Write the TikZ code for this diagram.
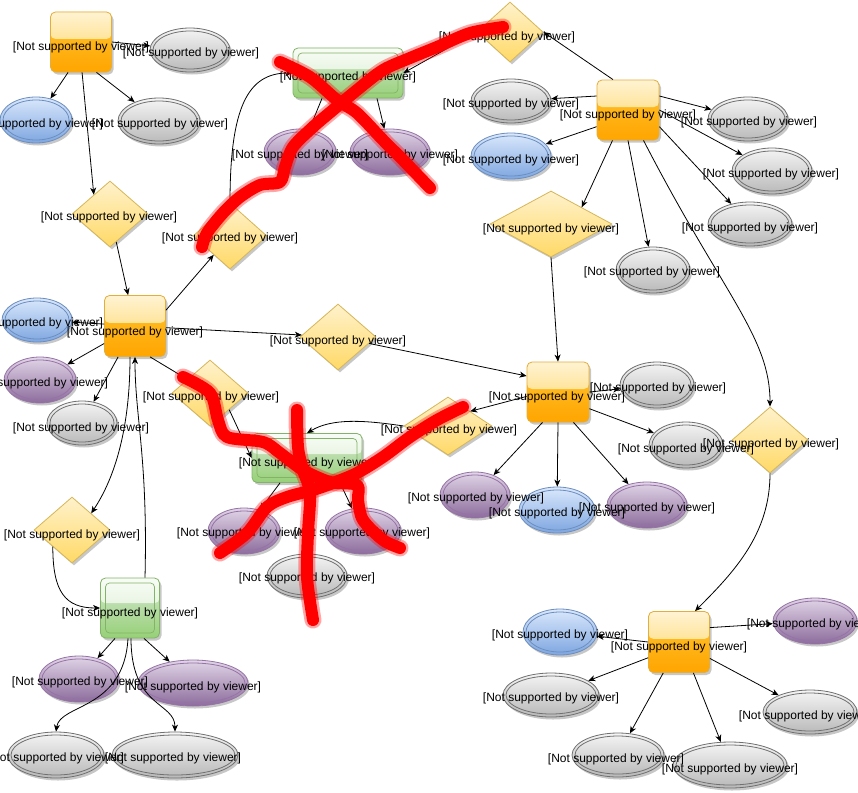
\documentclass[tikz,border=0pt]{standalone}
\usepackage{fontspec}
\setmainfont{Liberation Sans}
\usetikzlibrary{shapes.geometric, shadows, arrows.meta, calc}

% fills and rims
\definecolor{orTop}{HTML}{FFC533}
\definecolor{orBot}{HTML}{FFA500}
\definecolor{orGlassTop}{HTML}{FFF3D2}
\definecolor{orGlassBot}{HTML}{FFD258}
\definecolor{orRim}{HTML}{E3AE3C}
\definecolor{gnTop}{HTML}{D5E8D4}
\definecolor{gnBot}{HTML}{97D077}
\definecolor{gnGlassTop}{HTML}{F8FCF6}
\definecolor{gnGlassBot}{HTML}{D6EBCC}
\definecolor{gnRim}{HTML}{82B366}
\definecolor{grTop}{HTML}{F5F5F5}
\definecolor{grBot}{HTML}{B8B8B8}
\definecolor{grRim}{HTML}{707070}
\definecolor{blTop}{HTML}{DAE8FC}
\definecolor{blBot}{HTML}{7EA6E0}
\definecolor{blRim}{HTML}{6C8EBF}
\definecolor{puTop}{HTML}{E1D5E7}
\definecolor{puBot}{HTML}{8C6C9C}
\definecolor{puRim}{HTML}{9673A6}
\definecolor{dmTop}{HTML}{FFF2CC}
\definecolor{dmBot}{HTML}{FFD966}
\definecolor{dmRim}{HTML}{D6B656}

\pgfdeclarelayer{shapes}
\pgfdeclarelayer{marks}
\pgfsetlayers{shapes,main,marks}

\tikzset{
  sh/.style={drop shadow={shadow xshift=2pt, shadow yshift=-2.5pt, opacity=0.22, fill=black}},
  obox/.style={rectangle, rounded corners=5pt, inner sep=0pt, draw=orRim, line width=0.8pt,
    top color=orTop, bottom color=orBot, sh,
    path picture={\shade[top color=orGlassTop, bottom color=orGlassBot]
      (path picture bounding box.north west) rectangle
      ($(path picture bounding box.north east)!0.45!(path picture bounding box.south east)$);}},
  gbox/.style={rectangle, rounded corners=5pt, inner sep=0pt, draw=gnRim, line width=0.8pt,
    top color=gnTop, bottom color=gnBot, sh,
    path picture={\shade[top color=gnGlassTop, bottom color=gnGlassBot]
      (path picture bounding box.north west) rectangle
      ($(path picture bounding box.north east)!0.42!(path picture bounding box.south east)$);
      \draw[draw=gnRim, line width=0.7pt, rounded corners=4pt]
      ([shift={(5pt,-5pt)}]path picture bounding box.north west) rectangle
      ([shift={(-5pt,5pt)}]path picture bounding box.south east);}},
  rhomb/.style={diamond, inner sep=0pt, draw=dmRim, line width=0.8pt,
    top color=dmTop, bottom color=dmBot, sh},
  oval/.style={ellipse, inner sep=0pt, line width=0.8pt, sh},
  grayoval/.style={draw=grRim, top color=grTop, bottom color=grBot},
  blueoval/.style={draw=blRim, top color=blTop, bottom color=blBot},
  purpleoval/.style={draw=puRim, top color=puTop, bottom color=puBot},
  grayoval rim/.style={draw=grRim, line width=0.8pt},
  blueoval rim/.style={draw=blRim, line width=0.8pt},
  purpleoval rim/.style={draw=puRim, line width=0.8pt},
  txt/.style={font=\fontsize{12}{14}\selectfont, inner sep=0pt},
  conn/.style={line width=0.8pt, -{Stealth[length=7pt, width=6pt, inset=2pt]}},
  redhalo/.style={draw=red, opacity=0.35, line width=17pt, line cap=round, line join=round},
  redmark/.style={draw=red, line width=12pt, line cap=round, line join=round},
}

\newcommand\nsvtext{[Not supported by viewer]}

% #1 name, #2 x, #3 y, #4 width, #5 height, #6 style, #7/#8 label position
\newcommand\boxnode[8]{%
  \begin{pgfonlayer}{shapes}
    \node[#6, minimum width=#4pt, minimum height=#5pt] (#1) at (#2,#3) {};
  \end{pgfonlayer}
  \node[txt] (#1-t) at (#7,#8) {\nsvtext};}

% #1 name, #2 x, #3 y, #4 x radius, #5 y radius, #6 style, #7/#8 label position
\newcommand\ovalnode[8]{%
  \begin{pgfonlayer}{shapes}
    \node[oval, #6, minimum width={2*#4pt}, minimum height={2*#5pt}] (#1) at (#2,#3) {};
    \draw[#6 rim] (#1.center) ellipse [x radius=#4-3, y radius=#5-3];
  \end{pgfonlayer}
  \node[txt] (#1-t) at (#7,#8) {\nsvtext};}

\begin{document}
\begin{tikzpicture}[x=1pt, y=-1pt]
\useasboundingbox (0,0) rectangle (858,792);
\begin{pgfonlayer}{shapes}
  \fill[white] (0,0) rectangle (858,792);
\end{pgfonlayer}

% upper left group
\boxnode{O1}{81}{42}{61}{60}{obox}{81}{47}
\ovalnode{G1}{190}{50}{40}{22}{grayoval}{191}{53}
\ovalnode{B1}{36}{120}{36}{23}{blueoval}{35}{124}
\ovalnode{G2}{159}{121}{41}{23}{grayoval}{160}{124}
\boxnode{D1}{110}{214}{76}{66}{rhomb}{109}{217}

% middle left group
\boxnode{O2}{135}{326}{61}{61}{obox}{135}{332}
\ovalnode{B2}{37}{320}{35}{22}{blueoval}{35}{323}
\ovalnode{P1}{40}{380}{36}{23}{purpleoval}{40}{383}
\ovalnode{G3}{82}{423}{35}{22}{grayoval}{81}{428}
\boxnode{D2}{230}{236}{74}{66}{rhomb}{230}{238}
\boxnode{D6}{338}{337}{76}{66}{rhomb}{338}{341}
\boxnode{D8}{210}{393}{76}{66}{rhomb}{211}{397}

% upper middle group
\boxnode{Gr1}{348}{73}{110}{50}{gbox}{348}{77}
\ovalnode{P2}{300}{152}{36}{23}{purpleoval}{300}{155}
\ovalnode{P3}{390}{152}{40}{23}{purpleoval}{390}{155}

% upper right group
\boxnode{D3}{510}{32}{66}{60}{rhomb}{507}{37}
\boxnode{O3}{628}{110}{62}{60}{obox}{628}{115}
\ovalnode{G4}{511}{101}{40}{22}{grayoval}{511}{104}
\ovalnode{B3}{511}{156}{40}{23}{blueoval}{511}{160}
\ovalnode{G5}{748}{119}{40}{22}{grayoval}{749}{122}
\ovalnode{G6}{772}{171}{40}{23}{grayoval}{771}{174}
\ovalnode{G7}{750}{224}{42}{22}{grayoval}{750}{228}
\boxnode{D4}{551}{224}{122}{66}{rhomb}{551}{229}
\ovalnode{G8}{653}{270}{37}{23}{grayoval}{652}{272}

% centre right group
\boxnode{O4}{558}{392}{62}{60}{obox}{557}{397}
\ovalnode{G9}{657}{385}{37}{23}{grayoval}{658}{388}
\ovalnode{G10}{686}{445}{37}{23}{grayoval}{686}{449}
\ovalnode{P4}{475}{495}{35}{23}{purpleoval}{476}{498}
\ovalnode{B4}{557}{510}{38}{23}{blueoval}{557}{513}
\ovalnode{P5}{647}{505}{40}{23}{purpleoval}{647}{508}
\boxnode{D7}{448}{426}{88}{58}{rhomb}{449}{430}
\boxnode{D5}{770}{440}{76}{66}{rhomb}{771}{444}

% centre group
\boxnode{Gr2}{307}{458}{110}{49}{gbox}{307}{463}
\ovalnode{P6}{244}{531}{36}{23}{purpleoval}{245}{533}
\ovalnode{P7}{363}{531}{38}{23}{purpleoval}{362}{533}
\ovalnode{G11}{307}{576}{40}{22}{grayoval}{307}{578}

% lower left group
\boxnode{D9}{72}{530}{76}{66}{rhomb}{72}{535}
\boxnode{Gn3}{130}{608}{59}{60}{gbox}{130}{613}
\ovalnode{P8}{79}{679}{40}{23}{purpleoval}{80}{682}
\ovalnode{P9}{193}{683}{55}{23}{purpleoval}{193}{687}
\ovalnode{G12}{56}{755}{48}{23}{grayoval}{56}{758}
\ovalnode{G13}{175}{755}{63}{23}{grayoval}{173}{758}

% lower right group
\boxnode{O5}{679}{642}{61}{61}{obox}{679}{647}
\ovalnode{B5}{560}{632}{37}{23}{blueoval}{560}{635}
\ovalnode{P10}{815}{621}{42}{23}{purpleoval}{815}{624}
\ovalnode{G14}{551}{695}{48}{22}{grayoval}{551}{698}
\ovalnode{G15}{810}{712}{47}{22}{grayoval}{807}{716}
\ovalnode{G16}{618}{755}{46}{22}{grayoval}{616}{759}
\ovalnode{G17}{730}{765}{57}{23}{grayoval}{730}{769}

% connectors
\draw[conn] (O1.east) -- (G1);
\draw[conn] (O1.-113) -- (B1);
\draw[conn] (O1.-63) -- (G2);
\draw[conn] (O1.-88) -- (D1.130);
\draw[conn] (D1) -- (O2);
\draw[conn] (O2) -- (B2);
\draw[conn] (O2) -- (P1);
\draw[conn] (O2) -- (G3);
\draw[conn] (O2.27) -- (D2);
\draw[conn] (D2.north) .. controls +(0,-95) and +(-45,0) .. (Gr1.west);
\draw[conn] (D3.west) -- (Gr1.east);
\draw[conn] ([xshift=-26pt]Gr1.south) -- (P2);
\draw[conn] ([xshift=29pt]Gr1.south) -- (P3);
\draw[conn] ([xshift=-15pt]O3.north) -- (D3.east);
\draw[conn] (O3.156) -- (G4);
\draw[conn] (O3.-152) -- (B3);
\draw[conn] (O3.24) -- (G5);
\draw[conn] (O3.east) -- (G6);
\draw[conn] (O3.-28) -- (G7);
\draw[conn] (O3.-117) -- (D4.north east);
\draw[conn] (O3.south) -- (G8);
\draw[conn] (O3.-63) .. controls +(80,155) and +(0,-70) .. (D5.north);
\draw[conn] (D4.south) -- (O4.north);
\draw[conn] (O2) -- (D6);
\draw[conn] (D6) -- (O4.153);
\draw[conn] (O4.east) -- (G9);
\draw[conn] (O4.-28) -- (G10);
\draw[conn] (O4.-117) -- (P4);
\draw[conn] (O4.south) -- (B4);
\draw[conn] (O4.-63) -- (P5);
\draw[conn] (O4.188) -- (D7.north east);
\draw[conn] (D7.west) .. controls +(-40,-6) and +(25,-15) .. (Gr2.north);
\draw[conn] (O2.-64) -- (D8);
\draw[conn] (D8.south east) -- (Gr2.west);
\draw[conn] ([xshift=-27pt]Gr2.south) -- (P6);
\draw[conn] ([xshift=33pt]Gr2.south) -- (P7);
\draw[conn] (Gr2.south) -- (G11.north);
\draw[conn] ([xshift=-5pt]O2.south) .. controls +(0,80) and +(20,-30) .. (D9.north east);
\draw[conn] ([xshift=15pt]Gn3.north) .. controls +(3,-120) and +(0,60) .. (O2.south);
\draw[conn] (D9.south west) .. controls +(0,45) and +(-35,0) .. (Gn3.west);
\draw[conn] ([xshift=-15pt]Gn3.south) -- (P8);
\draw[conn] ([xshift=14pt]Gn3.south) -- (P9);
\draw[conn] ([xshift=-2pt]Gn3.south) .. controls +(-4,72) and +(4,-28) .. (G12.north);
\draw[conn] ([xshift=1pt]Gn3.south) .. controls +(0,70) and +(0,-30) .. (G13.north);
\draw[conn] (D5.south) .. controls +(0,60) and +(40,-40) .. ([xshift=16pt]O5.north);
\draw[conn] (O5.west) -- (B5);
\draw[conn] (O5.25) -- (P10);
\draw[conn] (O5.-153) -- (G14);
\draw[conn] (O5.-28) -- (G15);
\draw[conn] (O5.-117) -- (G16);
\draw[conn] (O5.-65) -- (G17);

% red crossing-out strokes
\begin{pgfonlayer}{marks}
  \foreach \s in {redhalo, redmark} {
    \draw[\s] plot[smooth, tension=0.5] coordinates
      {(280,62) (310,77) (337,100) (357,113) (383,140) (403,160) (430,188)};
    \draw[\s] plot[smooth, tension=0.5] coordinates
      {(503,27) (470,33) (437,47) (410,58) (383,70) (357,90) (333,110) (313,127)
       (293,147) (285,167) (280,182) (260,185) (240,197) (223,213) (207,233) (202,247)};
    \draw[\s] plot[smooth, tension=0.5] coordinates
      {(183,377) (210,393) (218,420) (227,437) (263,442) (280,453) (303,470) (330,482)
       (357,485) (358,500) (363,520) (383,540) (400,548)};
    \draw[\s] plot[smooth, tension=0.5] coordinates
      {(463,407) (437,420) (410,437) (383,457) (357,473) (333,483) (313,490) (287,497)
       (267,507) (247,533) (220,553)};
    \draw[\s] plot[smooth, tension=0.5] coordinates
      {(297,410) (298,447) (303,470) (310,493) (308,533) (307,577) (313,620)};
  }
\end{pgfonlayer}
\end{tikzpicture}
\end{document}
